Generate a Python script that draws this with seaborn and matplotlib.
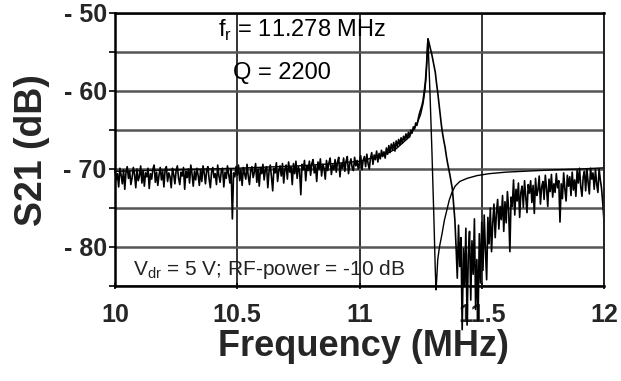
import numpy as np
import pandas as pd
import matplotlib
matplotlib.use("Agg")
import matplotlib.pyplot as plt
import seaborn as sns

# ---------------- data ----------------
s21_measured_db = [
    -70.2, -71.4, -70.6, -72.3, -69.9, -70.8, -71.9, -70.1, -72.6, -70.4, -69.7, -71.2, -70.3, -72.0, -71.1, -69.8, -70.7, -72.4, -70.0, -71.5,
    -70.9, -69.6, -71.8, -70.2, -72.2, -70.5, -71.0, -69.9, -72.5, -70.6, -71.3, -70.0, -69.5, -71.7, -70.4, -72.1, -70.8, -69.8, -71.4, -70.3,
    -72.3, -70.1, -69.7, -71.6, -70.5, -71.0, -72.4, -69.9, -70.7, -71.9, -70.2, -69.6, -71.2, -72.0, -70.4, -70.9, -69.8, -72.6, -70.3, -71.1,
    -70.0, -71.8, -69.5, -70.6, -72.2, -70.3, -71.4, -69.9, -70.8, -72.1, -70.1, -71.6, -69.6, -70.5, -71.9, -70.2, -69.7, -71.3, -72.4, -70.4,
    -69.8, -71.1, -70.6, -72.0, -69.5, -70.9, -71.7, -70.2, -69.9, -72.3, -70.4, -71.2, -69.6, -70.7, -71.8, -70.0, -76.4, -70.5, -71.0, -69.7,
    -70.8, -69.5, -71.5, -70.1, -72.1, -69.8, -70.6, -71.3, -69.4, -70.9, -72.0, -70.2, -69.7, -71.1, -70.4, -69.3, -71.7, -70.0, -72.2, -69.9,
    -70.6, -69.4, -71.4, -70.1, -69.7, -72.4, -70.3, -69.5, -71.0, -72.8, -69.9, -70.5, -69.2, -71.6, -70.2, -69.6, -70.9, -69.3, -71.8, -70.0,
    -69.5, -71.3, -69.1, -70.4, -69.8, -72.0, -69.3, -70.6, -69.0, -71.2, -69.7, -70.3, -73.3, -69.4, -70.1, -68.9, -71.5, -69.6, -70.2, -69.0,
    -70.8, -69.3, -68.8, -70.5, -69.6, -71.6, -69.1, -70.0, -68.7, -70.9, -69.4, -69.9, -71.3, -68.9, -70.2, -69.2, -68.6, -70.7, -69.5, -70.1,
    -68.8, -70.4, -69.1, -68.5, -71.0, -69.3, -69.9, -68.6, -70.3, -69.0, -68.4, -70.6, -69.4, -68.7, -69.8, -70.2, -68.5, -69.6, -68.9, -70.0,
    -69.2, -68.3, -70.1, -68.9, -68.4, -69.7, -68.1, -69.3, -70.0, -68.6, -67.9, -69.4, -68.2, -68.8, -67.7, -69.1, -68.0, -68.7, -67.6, -68.4,
    -67.8, -68.6, -67.3, -68.1, -67.0, -67.9, -66.8, -67.5, -66.6, -67.7, -66.4, -67.1, -66.2, -66.9, -66.0, -66.7, -65.8, -66.3, -65.5, -66.1,
    -65.3, -65.9, -65.0, -65.4, -64.6, -64.9, -64.1, -64.4, -63.6, -62.9, -62.4, -61.9, -61.2, -60.0, -58.6, -56.2, -53.3, -53.9, -54.6, -55.2,
    -56.0, -56.8, -57.6, -59.0, -60.2, -61.6, -63.1, -64.4, -65.5, -66.4, -67.2, -68.3, -69.2, -70.0, -70.8, -71.7, -72.6, -74.5, -76.5, -80.0,
    -84.0, -77.2, -82.5, -78.8, -90.6, -80.2, -85.0, -77.6, -90.0, -81.0, -78.0, -86.8, -79.2, -83.5, -76.4, -88.0, -81.6, -89.4, -78.3, -84.6,
    -76.8, -83.0, -75.9, -80.4, -84.2, -76.2, -79.6, -75.0, -80.6, -76.9, -74.5, -78.8, -75.6, -73.9, -77.7, -74.8, -76.5, -73.4, -78.0, -74.2,
    -76.9, -72.9, -75.2, -80.6, -73.6, -74.8, -71.4, -75.9, -72.6, -74.1, -71.8, -76.2, -73.0, -72.2, -74.9, -71.5, -73.5, -75.6, -72.0, -73.1,
    -71.5, -74.3, -72.1, -75.7, -71.2, -73.4, -72.7, -70.9, -74.5, -72.3, -71.6, -73.9, -70.8, -72.5, -74.8, -71.3, -72.9, -70.7, -73.6, -71.9,
    -73.0, -70.6, -72.4, -71.5, -76.8, -71.9, -73.8, -70.5, -72.6, -74.1, -70.8, -72.2, -71.0, -73.4, -70.4, -72.7, -71.4, -73.5, -70.2, -71.8,
    -69.9, -72.3, -73.5, -71.0, -70.3, -72.8, -70.0, -71.7, -73.2, -69.9, -71.3, -70.5, -72.6, -70.1, -71.9, -73.0, -70.0, -71.4, -72.5, -74.4,
    -76.7,
]
freq_mhz = np.round(np.linspace(10.0, 12.0, 401), 3)

fit_freq_mhz = [
    10.00, 10.25, 10.50, 10.75, 10.90, 11.00, 11.10, 11.15, 11.20, 11.235,
    11.25, 11.26, 11.268, 11.273, 11.276, 11.279, 11.282, 11.288, 11.296,
    11.304, 11.310, 11.313, 11.316, 11.320, 11.327, 11.337, 11.347, 11.357,
    11.367, 11.378, 11.391, 11.41, 11.44, 11.48, 11.53, 11.60, 11.70, 11.80,
    11.90, 12.00,
]
fit_s21_db = [
    -70.3, -70.1, -69.9, -69.6, -69.3, -69.0, -68.2, -67.4, -66.0, -64.2,
    -63.0, -61.6, -59.8, -58.0, -56.0, -53.6, -55.0, -60.0, -67.5,
    -76.0, -83.0, -85.5, -84.0, -81.6, -80.0, -78.4, -76.6, -75.3,
    -74.0, -73.0, -72.2, -71.6, -71.2, -70.85, -70.6, -70.4, -70.25, -70.1,
    -70.0, -69.85,
]

y_major_ticks = [-50, -60, -70, -80]
y_major_labels = ["- 50", "- 60", "- 70", "- 80"]
y_minor_ticks = [-55, -65, -75, -85]
x_ticks = [10, 10.5, 11, 11.5, 12]
x_tick_labels = ["10", "10.5", "11", "11.5", "12"]

measured = pd.DataFrame({"freq": freq_mhz, "s21": s21_measured_db})
fit = pd.DataFrame({"freq": fit_freq_mhz, "s21": fit_s21_db})

# ---------------- style ----------------
sns.set_theme(style="white")
plt.rcParams["font.family"] = ["Liberation Sans", "DejaVu Sans"]
plt.rcParams["mathtext.fontset"] = "custom"
plt.rcParams["mathtext.rm"] = "Liberation Sans"

fig = plt.figure(figsize=(6.21, 3.81), dpi=100)
W, H = 621, 381
ax = fig.add_axes([115 / W, 1 - 286 / H, 489 / W, 273 / H])

ax.set_xlim(10, 12)
ax.set_ylim(-85, -50)

# grid
ax.set_axisbelow(True)
ax.set_yticks(y_major_ticks)
ax.set_yticklabels(y_major_labels, fontsize=18, fontweight="bold")
ax.set_yticks(y_minor_ticks, minor=True)
ax.set_xticks(x_ticks)
ax.set_xticklabels(x_tick_labels, fontsize=18, fontweight="bold")
ax.yaxis.grid(True, which="both", color="#555555", lw=1.8)
ax.xaxis.grid(True, which="major", color="#111111", lw=1.2)

# data
sns.lineplot(data=fit, x="freq", y="s21", ax=ax, color="black", lw=1.0,
             estimator=None, sort=False, clip_on=False)
sns.lineplot(data=measured, x="freq", y="s21", ax=ax, color="black", lw=1.2,
             estimator=None, sort=False, clip_on=False)

# spines
for s in ["left", "bottom", "top"]:
    ax.spines[s].set_color("black")
    ax.spines[s].set_linewidth(1.8)
ax.spines["right"].set_color("#222222")
ax.spines["right"].set_linewidth(1.4)

ax.tick_params(axis="y", which="both", direction="out", length=4, width=1.2,
               color="black", left=True, pad=2)
ax.tick_params(axis="x", which="major", direction="inout", length=4, width=1.2,
               color="black", bottom=True, pad=10)

# labels
ax.set_xlabel("Frequency (MHz)", fontsize=26, fontweight="bold", va="baseline")
ax.xaxis.set_label_coords((363 - 115) / 489, (286 - 356) / 273)
ax.set_ylabel("S21 (dB)", fontsize=27, fontweight="bold", va="center")
ax.yaxis.set_label_coords((32 - 115) / 489, (286 - 150) / 273)

# annotations
ax.text(10.765, -53.1, r"f$_\mathregular{r}$ = 11.278 MHz", fontsize=17,
        ha="center", va="baseline", color="black")
ax.text(10.681, -58.45, "Q = 2200", fontsize=17, ha="center", va="baseline",
        color="black")
ax.text(10.074, -83.6, r"V$_\mathregular{dr}$ = 5 V; RF-power = -10 dB",
        fontsize=15, ha="left", va="baseline", color="#222222")

fig.savefig("out.png", dpi=100)
